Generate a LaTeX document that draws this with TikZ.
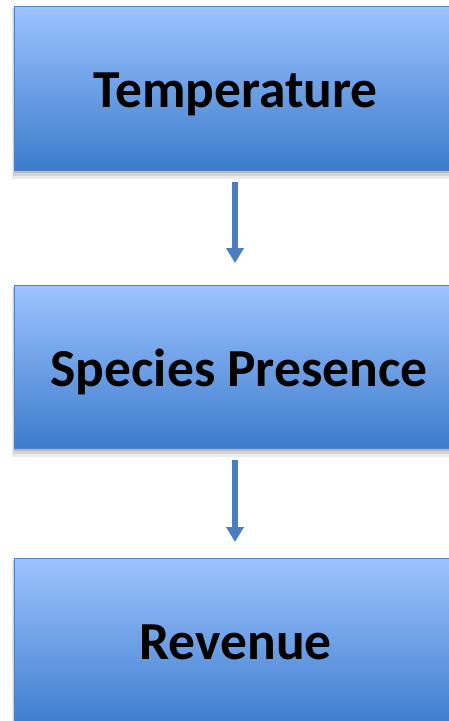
\documentclass[tikz,border=0pt]{standalone}
\usepackage{fontspec}
\setmainfont{Carlito}
\usetikzlibrary{arrows.meta}
\definecolor{boxtop}{RGB}{157,195,255}
\definecolor{boxbot}{RGB}{60,124,204}
\definecolor{boxline}{RGB}{80,128,190}
\definecolor{arrowc}{RGB}{74,126,190}
\newcommand{\lbl}[2]{\raisebox{-#1pt}[0pt][0pt]{#2}}
\tikzset{
  flowbox/.style={draw=boxline, line width=1.2pt, top color=boxtop, bottom color=boxbot,
    minimum width=442pt, minimum height=164pt, inner sep=0pt,
    font=\fontsize{53.5}{62}\selectfont\bfseries, text=black},
  flowarrow/.style={draw=arrowc, line width=6pt, -{Triangle[width=17pt,length=15pt]}}
}
\begin{document}
\begin{tikzpicture}[x=1pt,y=-1pt]
\useasboundingbox (0,0) rectangle (449,721);
\begin{scope}
\clip (0,0) rectangle (449,721);
% shadows
\foreach \yy/\hh in {6/164,285/163,558/170}{
  \fill[black,opacity=0.08] (12,\yy+2) rectangle (458,\yy+\hh+9);
  \fill[black,opacity=0.10] (13,\yy+2) rectangle (457,\yy+\hh+6);
  \fill[black,opacity=0.12] (14,\yy+2) rectangle (456,\yy+\hh+3);
}
\node[flowbox, anchor=north west] (t) at (14,6) {\lbl{19}{Temperature}};
\node[flowbox, anchor=north west, minimum height=163pt] (s) at (14,285) {\lbl{19.5}{\hspace*{7pt}Species Presence}};
\node[flowbox, anchor=north west, minimum height=170pt] (r) at (14,558) {\lbl{16}{Revenue}};
\coordinate (a1s) at (235,182);
\coordinate (a1e) at (235,263);
\coordinate (a2s) at (235,460);
\coordinate (a2e) at (235,542);
\draw[flowarrow] (a1s) -- (a1e);
\draw[flowarrow] (a2s) -- (a2e);
\end{scope}
\end{tikzpicture}
\end{document}
